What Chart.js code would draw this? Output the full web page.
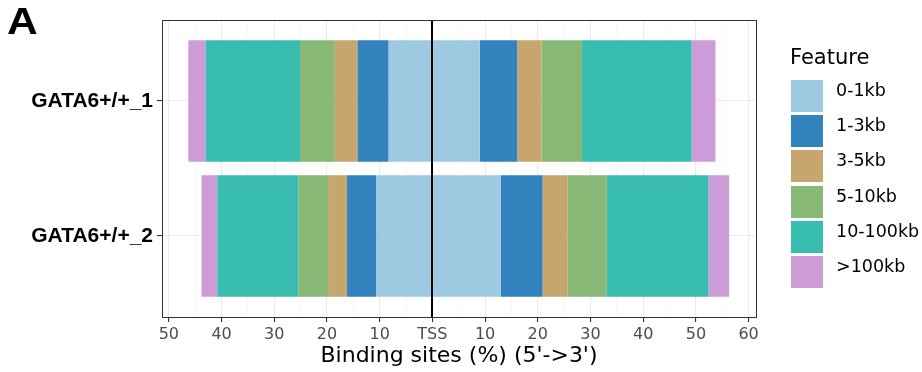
<!DOCTYPE html>
<html>
<head>
<meta charset="utf-8">
<script src="https://cdn.jsdelivr.net/npm/chart.js@4"></script>
<style>
  body { margin: 0; background: #fff; }
  #wrap { position: relative; width: 922px; height: 372px; }
  #panelTag { position: absolute; left: 7px; top: 3px; font: bold 37px "Liberation Sans", Arial, sans-serif; line-height: 37px; color: #000; transform: scaleX(1.15); transform-origin: left top; }
  #legendTitle { position: absolute; left: 790px; top: 47px; font: 21px "DejaVu Sans", sans-serif; line-height: 21px; color: #000; }
  .lg-box { position: absolute; left: 791px; width: 32px; height: 32px; }
  .lg-text { position: absolute; left: 836px; height: 32px; line-height: 32px; font: 17.5px "DejaVu Sans", sans-serif; color: #000; }
</style>
</head>
<body>
<div id="wrap">
  <canvas id="chart" width="922" height="372"></canvas>
  <div id="panelTag">A</div>
  <div id="legendTitle">Feature</div>
  <div id="legend"></div>
</div>
<script>
const categories = ["GATA6+/+_1", "GATA6+/+_2"];
const features = ["0-1kb", "1-3kb", "3-5kb", "5-10kb", "10-100kb", ">100kb"];
const featureColors = ["#9ecae1", "#3182bd", "#c6a66c", "#87b876", "#39bdb0", "#cc9bd8"];

// % of binding sites per distance bin, upstream (5') and downstream (3') of the TSS
const upstreamRep1 = [8.3, 5.9, 4.3, 6.6, 17.9, 3.3];
const upstreamRep2 = [10.6, 5.6, 3.6, 5.6, 15.4, 3.0];
const downstreamRep1 = [9.0, 7.1, 4.6, 7.7, 20.8, 4.5];
const downstreamRep2 = [13.0, 7.9, 4.7, 7.5, 19.3, 3.9];

const xTickValues = [-50, -45, -40, -35, -30, -25, -20, -15, -10, -5, 0, 5, 10, 15, 20, 25, 30, 35, 40, 45, 50, 55, 60];

const datasets = [];
features.forEach((f, i) => {
  datasets.push({
    label: f,
    data: [{ x: -upstreamRep1[i], y: 1 }, { x: -upstreamRep2[i], y: 2 }],
    backgroundColor: featureColors[i]
  });
});
features.forEach((f, i) => {
  datasets.push({
    label: f,
    data: [{ x: downstreamRep1[i], y: 1 }, { x: downstreamRep2[i], y: 2 }],
    backgroundColor: featureColors[i]
  });
});

const panelExtras = {
  id: "panelExtras",
  afterDatasetsDraw(chart) {
    const ctx = chart.ctx;
    const a = chart.chartArea;
    const x0 = Math.round(chart.scales.x.getPixelForValue(0));
    ctx.save();
    ctx.strokeStyle = "#000";
    ctx.lineWidth = 2;
    ctx.beginPath();
    ctx.moveTo(x0, a.top);
    ctx.lineTo(x0, a.bottom);
    ctx.stroke();
    ctx.strokeStyle = "#333";
    ctx.lineWidth = 1;
    ctx.strokeRect(Math.round(a.left) + 0.5, Math.round(a.top) + 0.5, Math.round(a.right - a.left), Math.round(a.bottom - a.top));
    ctx.restore();
  }
};

new Chart(document.getElementById("chart"), {
  type: "bar",
  data: { datasets },
  options: {
    indexAxis: "y",
    responsive: false,
    animation: false,
    devicePixelRatio: 1,
    layout: { padding: { top: 20, right: 166, left: 0, bottom: 0 } },
    datasets: { bar: { categoryPercentage: 1, barPercentage: 0.9, borderWidth: 0 } },
    plugins: { legend: { display: false }, tooltip: { enabled: false } },
    scales: {
      x: {
        type: "linear",
        stacked: true,
        min: -51.3,
        max: 61.4,
        afterFit: s => { s.height = 55; },
        afterBuildTicks: s => { s.ticks = xTickValues.map(v => ({ value: v })); },
        border: { display: false },
        grid: {
          color: c => (c.tick && c.tick.value % 10 === 0) ? "#ebebeb" : "#f3f3f3",
          lineWidth: c => (c.tick && c.tick.value % 10 === 0) ? 1.1 : 0.6,
          tickColor: c => (c.tick && c.tick.value % 10 === 0) ? "#333" : "rgba(0,0,0,0)",
          tickLength: 5
        },
        ticks: {
          autoSkip: false,
          maxRotation: 0,
          padding: 3,
          color: "#4d4d4d",
          font: { family: "DejaVu Sans", size: 16 },
          callback: v => v === 0 ? "TSS" : (v % 10 === 0 ? String(Math.abs(v)) : "")
        },
        title: {
          display: true,
          text: "Binding sites (%) (5'->3')",
          color: "#000",
          font: { family: "DejaVu Sans", size: 22 },
          padding: { top: 0, bottom: 3 }
        }
      },
      y: {
        type: "linear",
        stacked: true,
        reverse: true,
        offset: false,
        grace: 0,
        min: 0.4,
        max: 2.6,
        afterFit: s => { s.width = 162; },
        afterBuildTicks: s => { s.ticks = categories.map((c, i) => ({ value: i + 1 })); },
        border: { display: false },
        grid: { offset: false, color: "#ebebeb", lineWidth: 1.1, tickColor: "#333", tickLength: 5 },
        ticks: {
          padding: 4,
          color: "#000",
          font: { family: "Liberation Sans", size: 21, weight: "bold" },
          callback: v => categories[v - 1] || ""
        }
      }
    }
  },
  plugins: [panelExtras]
});

const legend = document.getElementById("legend");
features.forEach((f, i) => {
  const top = 80 + i * 35.2;
  const box = document.createElement("div");
  box.className = "lg-box";
  box.style.top = top + "px";
  box.style.background = featureColors[i];
  const txt = document.createElement("div");
  txt.className = "lg-text";
  txt.style.top = top + "px";
  txt.textContent = f;
  legend.appendChild(box);
  legend.appendChild(txt);
});
</script>
</body>
</html>
